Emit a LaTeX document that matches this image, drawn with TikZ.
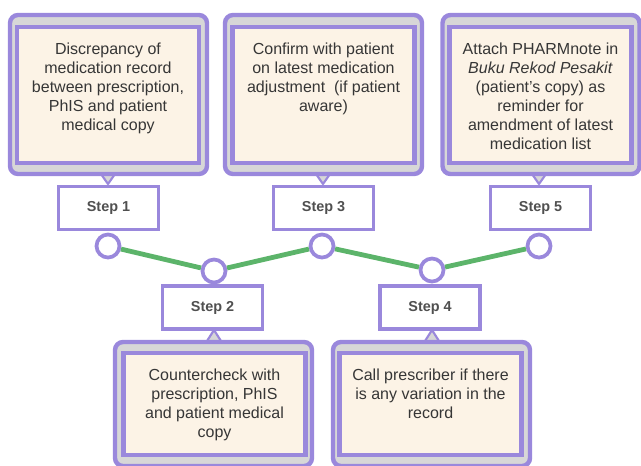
\documentclass[tikz,border=0pt]{standalone}
\usepackage{fontspec}
\setmainfont{Liberation Sans}

\definecolor{purp}{HTML}{9A88DC}
\definecolor{boxgray}{HTML}{D7D7D7}
\definecolor{cream}{HTML}{FCF3E6}
\definecolor{linkgreen}{HTML}{5CB46A}
\definecolor{inkgray}{HTML}{363636}
\definecolor{stepgray}{HTML}{505050}

\begin{document}
\begin{tikzpicture}[x=0.75pt, y=-0.75pt,
	outerbox/.style={draw=purp, line width=3.3pt, fill=boxgray, rounded corners=6pt,
		minimum width=147.75pt, minimum height=119.25pt, inner sep=0pt},
	lowbox/.style={outerbox, minimum height=93pt},
	innerbox/.style={draw=purp, line width=3.1pt, fill=cream,
		minimum width=136.5pt, minimum height=102pt, inner sep=0pt},
	lowinner/.style={innerbox, minimum height=76.5pt},
	bodytext/.style={anchor=north, inner sep=0pt, align=center, text=inkgray,
		font=\fontsize{12pt}{14.25pt}\selectfont},
	stepbox/.style={draw=purp, line width=2.9pt, fill=white, minimum width=75pt,
		minimum height=32.25pt, inner sep=0pt, text=stepgray,
		font=\fontsize{10.8pt}{12pt}\selectfont\bfseries},
	dot/.style={circle, draw=purp, line width=2.8pt, fill=white,
		minimum size=17.25pt, inner sep=0pt},
	pointer/.style={draw=purp, line width=1.6pt, fill=boxgray, line join=round},
	link/.style={draw=linkgreen, line width=3.6pt}]

	\clip (0,0) rectangle (641,465);

	% Pointers under the boxes
	\draw[pointer] (101,174) -- (108,184) -- (115,174);
	\draw[pointer] (316,174) -- (323,184) -- (330,174);
	\draw[pointer] (532,174) -- (539,184) -- (546,174);
	\draw[pointer] (207,341) -- (214,330) -- (221,341);
	\draw[pointer] (425,341) -- (432,330) -- (439,341);

	% Boxes on top
	\node[outerbox] (o1) at (108.5,94.5) {};
	\node[outerbox] (o3) at (323.5,94.5) {};
	\node[outerbox] (o5) at (541,94.5) {};
	\node[innerbox] (i1) at (108,95) {};
	\node[innerbox] (i3) at (323.5,95) {};
	\node[innerbox] (i5) at (540.5,95) {};

	\node[bodytext] (t1) at (108,42.4) {Discrepancy of\\ medication record\\ between prescription,\\ PhIS and patient\\ medical copy};
	\node[bodytext] (t3) at (323.5,42.4) {Confirm with patient\\ on latest medication\\ adjustment\ \ (if patient\\ aware)};
	\node[bodytext] (t5) at (540.5,42.4) {Attach PHARMnote in\\ \textit{Buku Rekod Pesakit}\\ (patient's copy) as\\ reminder for\\ amendment of latest\\ medication list};

	% Boxes at the bottom
	\node[lowbox] (o2) at (213.5,404) {};
	\node[lowbox] (o4) at (431.5,404) {};
	\node[lowinner] (i2) at (214.5,404) {};
	\node[lowinner] (i4) at (430.5,404) {};

	\node[bodytext] (t2) at (214.5,368.4) {Countercheck with\\ prescription, PhIS\\ and patient medical\\ copy};
	\node[bodytext] (t4) at (430.5,368.4) {Call prescriber if there\\ is any variation in the\\ record};

	% Steps
	\node[stepbox] (s1) at (108.5,208) {Step 1};
	\node[stepbox] (s3) at (323.5,208) {Step 3};
	\node[stepbox] (s5) at (540.5,208) {Step 5};
	\node[stepbox] (s2) at (212.5,307.5) {Step 2};
	\node[stepbox] (s4) at (430,307.5) {Step 4};

	% Time line
	\node[dot] (d1) at (108,246) {};
	\node[dot] (d2) at (214,271) {};
	\node[dot] (d3) at (322,246) {};
	\node[dot] (d4) at (432,270) {};
	\node[dot] (d5) at (539,246) {};

	\draw[link] (d1) -- (d2);
	\draw[link] (d2) -- (d3);
	\draw[link] (d3) -- (d4);
	\draw[link] (d4) -- (d5);
\end{tikzpicture}
\end{document}
